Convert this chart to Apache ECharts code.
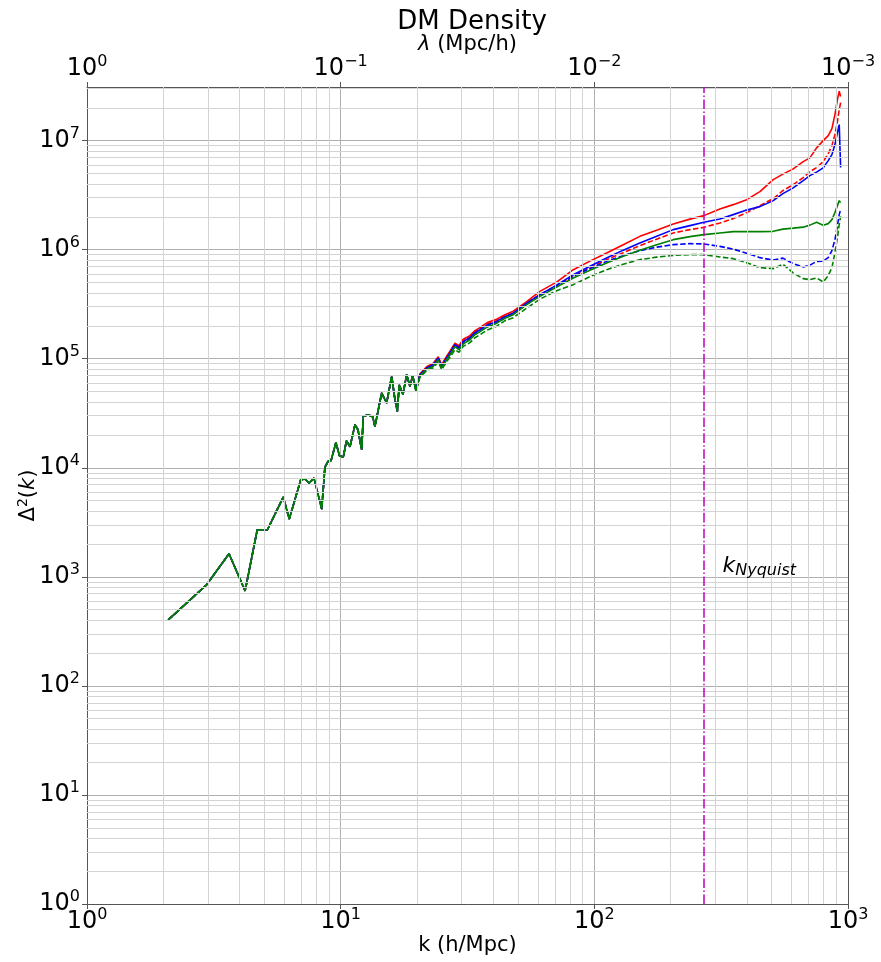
<!DOCTYPE html>
<html>
<head>
<meta charset="utf-8">
<script src="https://cdn.jsdelivr.net/npm/echarts@6/dist/echarts.min.js"></script>
<style>
  html, body { margin: 0; padding: 0; background: #ffffff; }
  #chart { width: 881px; height: 962px; }
</style>
</head>
<body>
<div id="chart"></div>
<script>
// Wavenumbers where all six spectra coincide (h/Mpc)
const kShared = [2.09, 2.96, 3.63, 4.20, 4.69, 5.14, 5.94, 6.27, 6.96, 7.23, 7.52, 7.85, 8.42, 8.67, 8.94, 9.16, 9.58, 9.89, 10.24, 10.54, 10.88, 11.39, 11.70, 12.10, 12.28, 12.82, 13.37, 13.65, 14.51, 15.18, 15.89, 16.37, 16.72, 17.02, 17.60, 18.20, 18.76, 19.22];
const dShared = [403, 845, 1626, 744, 2700, 2700, 5390, 3383, 7760, 7875, 7240, 8040, 4180, 10150, 11590, 11590, 17060, 12890, 12540, 17700, 15590, 24790, 22320, 14630, 29560, 30630, 29370, 23920, 48450, 39240, 68830, 42070, 32850, 57700, 46770, 71290, 55700, 69840];

// Wavenumbers where the spectra separate
const kTail = [19.81, 20.54, 21.83, 23.17, 24.25, 25.01, 26.17, 26.97, 28.22, 29.27, 30.43, 32.33, 33.83, 35.40, 38.07, 41.20, 44.43, 47.9, 54.1, 61.0, 71.0, 82.6, 96.1, 111.8, 130.0, 151.2, 176.1, 204.7, 238.2, 270.4, 312.6, 352.8, 398.5, 449.5, 507.3, 553.8, 608.1, 665.9, 707.5, 751.9, 798.5, 835.6, 864.2, 888.1, 908.5, 923.4, 935.2];

const redSolid = [51950, 72840, 84440, 90920, 104300, 88100, 105400, 117200, 138800, 131600, 151000, 162600, 180700, 192500, 216200, 230400, 253300, 272800, 333400, 414400, 503300, 655300, 784500, 932700, 1111000, 1324000, 1510000, 1721000, 1905000, 2051000, 2363000, 2587000, 2875000, 3405000, 4388000, 4928000, 5501000, 6416000, 6938000, 8572000, 10000000, 11110000, 12890000, 17320000, 23780000, 28340000, 25330000];
const redDashed = [51950, 71320, 82670, 89020, 102100, 86270, 103200, 114700, 135800, 128900, 146300, 159200, 176900, 188500, 209500, 223200, 245500, 261500, 323000, 386600, 467400, 577400, 683700, 809500, 938700, 1088000, 1248000, 1423000, 1526000, 1602000, 1758000, 1925000, 2185000, 2533000, 2937000, 3478000, 3948000, 4577000, 5195000, 5654000, 6416000, 7598000, 8998000, 11350000, 14940000, 19250000, 22320000];
const blueSolid = [51950, 71320, 82160, 88100, 101500, 84990, 101500, 112800, 134400, 126200, 144100, 155800, 173200, 184500, 205100, 219900, 242900, 261500, 323000, 386600, 472400, 589600, 705600, 839300, 989500, 1152000, 1330000, 1526000, 1661000, 1781000, 1913000, 2095000, 2304000, 2480000, 2815000, 3264000, 3683000, 4296000, 4775000, 5140000, 5618000, 6553000, 7437000, 9190000, 11840000, 14020000, 5654000];
const blueDashed = [51400, 70570, 80960, 86270, 98950, 83560, 98950, 110000, 130200, 122300, 140300, 151000, 167800, 178800, 198800, 213900, 237800, 256000, 316200, 382500, 462600, 568900, 669400, 780900, 881000, 979100, 1054000, 1111000, 1135000, 1128000, 1072000, 1011000, 928800, 844500, 801100, 835600, 743700, 693800, 720600, 780900, 784500, 844500, 979100, 1235000, 1661000, 2095000, 2328000];
const greenSolid = [50860, 69820, 80110, 85350, 97910, 82670, 97910, 108800, 128900, 120900, 137200, 149400, 166100, 176900, 196600, 211700, 235200, 253300, 312900, 373000, 452900, 550200, 648400, 755100, 871700, 985400, 1111000, 1235000, 1316000, 1373000, 1423000, 1463000, 1463000, 1463000, 1472000, 1543000, 1575000, 1608000, 1678000, 1781000, 1671000, 1732000, 1885000, 2185000, 2533000, 2815000, 2699000];
const greenDashed = [49800, 67670, 77620, 82670, 93870, 79300, 93870, 103200, 120900, 114700, 130200, 140300, 155800, 166100, 184500, 198800, 223200, 237800, 290600, 351500, 420600, 477500, 565400, 655300, 736200, 809500, 853400, 886500, 899800, 899800, 857000, 827000, 759800, 683700, 669400, 736200, 611200, 542000, 530700, 550200, 505500, 577400, 683700, 938700, 1289000, 1696000, 2021000];

const kNyquist = 270.4;
const nyquistLabelAt = [320, 1260];

const xRange = [1, 1000];
const yRange = [1, 3.1e7];
const lambdaRange = [0.001, 1];

const FONT = 'DejaVu Sans';

// minor grid positions: 2..9 times each power of ten
function minorPositions(lo, hi) {
  const out = [];
  for (let d = Math.round(Math.log10(lo)); Math.pow(10, d) < hi; d++) {
    for (let m = 2; m <= 9; m++) {
      const v = m * Math.pow(10, d);
      if (v < hi) out.push(v);
    }
  }
  return out;
}
const minorX = minorPositions(xRange[0], xRange[1]);
const minorY = minorPositions(yRange[0], yRange[1]);

function pairs(kArr, vArr) { return kArr.map((k, i) => [k, vArr[i]]); }
function full(tail) { return pairs(kShared.concat(kTail), dShared.concat(tail)); }

function powLabel(v) {
  const l = Math.log10(v);
  const e = Math.round(l);
  if (Math.abs(l - e) > 1e-6) return '';
  return '{b|10}{s|' + (e < 0 ? '\u2212' + (-e) : e) + '}';
}
const tickRich = {
  b: { fontSize: 24, fontFamily: FONT, color: '#000', lineHeight: 30 },
  s: { fontSize: 16, fontFamily: FONT, color: '#000', lineHeight: 18, verticalAlign: 'top' }
};

const chart = echarts.init(document.getElementById('chart'), null, { renderer: 'canvas' });

function curve(name, tail, color, dashed, z) {
  return {
    name, type: 'line', data: full(tail), xAxisIndex: 0, yAxisIndex: 0,
    showSymbol: false, symbol: 'none', smooth: false, z: z, silent: true,
    lineStyle: { color, width: 1.6, type: dashed ? [5.5, 2.4] : 'solid' }
  };
}

const option = {
  animation: false,
  backgroundColor: '#ffffff',
  title: {
    text: 'DM Density', left: 467, top: 4, textAlign: 'center',
    textStyle: { fontSize: 26, fontWeight: 'normal', fontFamily: FONT, color: '#000' }
  },
  grid: { left: 87, right: 33, top: 87, bottom: 58, containLabel: false, outerBoundsMode: 'none', show: false },
  xAxis: [{
    type: 'log', logBase: 10, min: xRange[0], max: xRange[1], interval: 1,
    axisLine: { show: true, onZero: false, lineStyle: { color: '#555', width: 1 } },
    axisTick: { show: true, length: 5, lineStyle: { color: '#555' } },
    axisLabel: { formatter: powLabel, rich: tickRich, margin: 3, showMinLabel: true, showMaxLabel: true },
    splitLine: { show: true, lineStyle: { color: '#b0b0b0', width: 1 } },
    name: 'k (h/Mpc)', nameLocation: 'middle', nameGap: 31, nameMoveOverlap: false,
    nameTextStyle: { fontSize: 21, fontFamily: FONT, color: '#000' }
  }, {
    type: 'log', logBase: 10, min: lambdaRange[0], max: lambdaRange[1], inverse: true, position: 'top', interval: 1,
    axisLine: { show: true, onZero: false, lineStyle: { color: '#555', width: 1 } },
    axisTick: { show: true, length: 5, lineStyle: { color: '#555' } },
    axisLabel: { formatter: powLabel, rich: tickRich, margin: 3, showMinLabel: true, showMaxLabel: true },
    splitLine: { show: false },
    name: '{l|\u03bb} (Mpc/h)', nameLocation: 'middle', nameGap: 32, nameMoveOverlap: false,
    nameTextStyle: { fontSize: 21, fontFamily: FONT, color: '#000',
      rich: { l: { fontSize: 21, fontFamily: FONT, fontStyle: 'italic', color: '#000' } } }
  }],
  yAxis: [{
    type: 'log', logBase: 10, min: yRange[0], max: yRange[1], interval: 1,
    axisLine: { show: true, onZero: false, lineStyle: { color: '#555', width: 1 } },
    axisTick: { show: true, length: 5, lineStyle: { color: '#555' } },
    axisLabel: { formatter: powLabel, rich: tickRich, margin: 7, showMaxLabel: false },
    splitLine: { show: true, lineStyle: { color: '#b0b0b0', width: 1 } },
    name: '{d|\u0394}{s|2}{d|(}{i|k}{d|)}', nameLocation: 'middle', nameGap: 45, nameRotate: 90, nameMoveOverlap: false,
    nameTextStyle: {
      fontSize: 21, fontFamily: FONT, color: '#000',
      rich: {
        d: { fontSize: 21, fontFamily: FONT, color: '#000', lineHeight: 26 },
        i: { fontSize: 21, fontFamily: FONT, fontStyle: 'italic', color: '#000', lineHeight: 26 },
        s: { fontSize: 14, fontFamily: FONT, color: '#000', lineHeight: 16, verticalAlign: 'top' }
      }
    }
  }, {
    type: 'log', logBase: 10, min: yRange[0], max: yRange[1], position: 'right',
    axisLine: { show: true, onZero: false, lineStyle: { color: '#555', width: 1 } },
    axisTick: { show: false }, axisLabel: { show: false }, splitLine: { show: false }
  }],
  series: [
    {
      name: 'minor grid', type: 'line', data: [], xAxisIndex: 0, yAxisIndex: 0, silent: true, z: 1,
      markLine: {
        silent: true, symbol: ['none', 'none'], label: { show: false }, animation: false,
        lineStyle: { color: '#d3d3d3', width: 1, type: 'solid' },
        emphasis: { disabled: true },
        data: minorX.map(v => ({ xAxis: v })).concat(minorY.map(v => ({ yAxis: v })))
      }
    },
    curve('red', redSolid, '#ff0000', false, 3),
    curve('red dashed', redDashed, '#ff0000', true, 3),
    curve('blue', blueSolid, '#0000ff', false, 3),
    curve('blue dashed', blueDashed, '#0000ff', true, 3),
    curve('green', greenSolid, '#008000', false, 3),
    curve('green dashed', greenDashed, '#008000', true, 3),
    {
      name: 'Nyquist', type: 'line', data: [], xAxisIndex: 0, yAxisIndex: 0, silent: true, z: 4,
      markLine: {
        silent: true, symbol: ['none', 'none'], label: { show: false }, animation: false,
        lineStyle: { color: '#bf00bf', width: 1.5, type: [9.6, 2.4, 1.5, 2.4] },
        emphasis: { disabled: true },
        data: [{ xAxis: kNyquist }]
      },
      markPoint: {
        silent: true, symbol: 'circle', symbolSize: 0, animation: false,
        data: [{ coord: nyquistLabelAt }],
        label: {
          show: true, position: 'right', distance: 0,
          formatter: '{k|k}{n|Nyquist}',
          rich: {
            k: { fontSize: 22, fontFamily: FONT, fontStyle: 'italic', color: '#000', lineHeight: 26 },
            n: { fontSize: 16, fontFamily: FONT, fontStyle: 'italic', color: '#000', lineHeight: 18, verticalAlign: 'bottom' }
          }
        }
      }
    }
  ]
};
chart.setOption(option);
</script>
</body>
</html>
